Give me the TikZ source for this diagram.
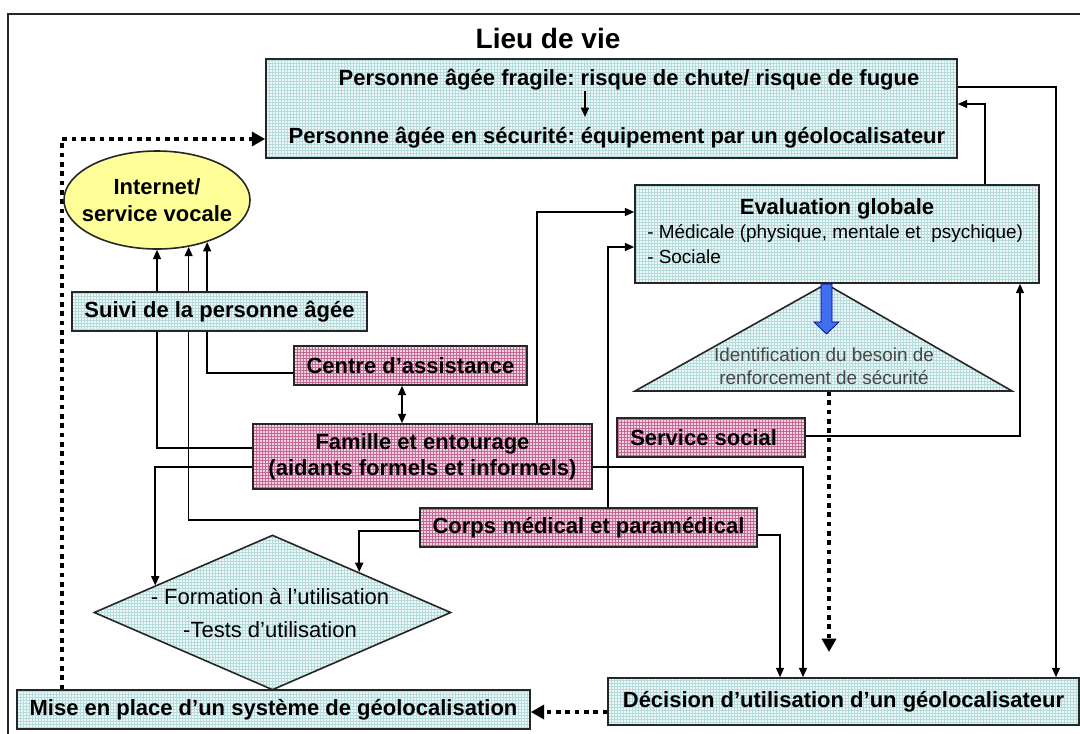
\documentclass[tikz,border=0pt]{standalone}
\usepackage{fontspec}
\setmainfont{Liberation Sans}
\usetikzlibrary{shapes.geometric,arrows.meta,backgrounds}
\frenchspacing
\definecolor{cyanfill}{HTML}{EEF8F8}
\definecolor{cyangrid}{HTML}{B4DCDC}
\definecolor{pinkfill}{HTML}{F2D4E2}
\definecolor{pinkgrid}{HTML}{C46896}
\definecolor{yellfill}{HTML}{FFFF99}
\definecolor{bluearr}{HTML}{3F6FF0}
\newcommand{\myBold}{\bfseries\fontsize{16.5}{19.8}\selectfont}
\newcommand{\myReg}{\fontsize{16.5}{19.8}\selectfont}
\newcommand{\mySmall}{\fontsize{14.2}{17.6}\selectfont}
\tikzset{
  cgrid/.style={path picture={\draw[cyangrid,line width=0.35pt,step=2.25pt] (path picture bounding box.south west) grid (path picture bounding box.north east);}},
  pgrid/.style={path picture={\draw[pinkgrid,line width=0.4pt,step=2.25pt] (path picture bounding box.south west) grid (path picture bounding box.north east);}},
  box/.style={draw=black!85, line width=1.2pt, inner sep=0pt, font=\myBold, align=center},
  cbox/.style={box, fill=cyanfill, cgrid},
  pbox/.style={box, fill=pinkfill, pgrid},
  txt/.style={inner sep=0pt, font=\myBold, align=center},
  conn/.style={line width=1.1pt, black},
  arr/.style={conn, -{Triangle[length=7pt,width=6pt]}},
  darr/.style={conn, {Triangle[length=7pt,width=6pt]}-{Triangle[length=7pt,width=6pt]}},
  dotarr/.style={line width=3pt, dash pattern=on 3.5pt off 3.5pt, -{Triangle[length=10pt,width=10.5pt]}},
}
\begin{document}
\begin{tikzpicture}[x=0.75pt,y=-0.75pt]
\useasboundingbox (0,0) rectangle (1080,733);
\clip (0,0) rectangle (1080,733);
\draw[line width=1.5pt, black!85] (8,14) rectangle (1110,770);

\node[txt, font=\bfseries\fontsize{21}{25}\selectfont] (title) at (548,38) {Lieu de vie};

% top box
\node[cbox, minimum width=518.25pt, minimum height=74.25pt] (top) at (611.5,108.5) {};
\node[txt] (t1) at (629,80) {Personne âgée fragile: risque de chute/ risque de fugue};
\node[txt] (t2) at (617,138) {Personne âgée en sécurité: équipement par un géolocalisateur};
\coordinate (a1) at (585,91);
\coordinate (a2) at (585,117);
\draw[arr] (a1) -- (a2);

% ellipse
\node[ellipse, draw=black!85, line width=1.2pt, fill=yellfill, minimum width=139.5pt, minimum height=73.5pt, inner sep=0pt] (ell) at (157,200) {};
\node[txt] (ellt) at (157,200) {Internet/\\service vocale};

% boxes
\node[cbox, minimum width=221.25pt, minimum height=29.25pt] (suivi) at (219.5,311.5) {Suivi de la personne âgée};
\node[pbox, minimum width=174.75pt, minimum height=29.25pt] (centre) at (410.5,365.5) {Centre d’assistance};
\node[pbox, minimum width=254.25pt, minimum height=48.75pt] (fam) at (422.5,456.5) {Famille et entourage\\(aidants formels et informels)};
\node[pbox, minimum width=252.75pt, minimum height=29.25pt] (corps) at (588.5,527.5) {Corps médical et paramédical};

% evaluation
\node[cbox, minimum width=303pt, minimum height=73.5pt] (eval) at (837,234) {};
\node[txt] (evt) at (837,209) {Evaluation globale};
\node[txt, anchor=west, font=\mySmall] (ev1) at (647,233) {- Médicale (physique, mentale et\ \ psychique)};
\node[txt, anchor=west, font=\mySmall] (ev2) at (647,257) {- Sociale};

% triangle
\coordinate (triapex) at (826,284);
\coordinate (triright) at (1012,391);
\coordinate (trileft) at (635,391);
\coordinate (tribase) at (829,391);
\filldraw[fill=cyanfill, cgrid, draw=black!85, line width=1.2pt] (triapex) -- (triright) -- (trileft) -- cycle;
\node[txt, font=\mySmall\mdseries, text=black!72] (trit) at (824,366) {Identification du besoin de\\renforcement de sécurité};

% blue arrow
\filldraw[fill=bluearr, draw=blue!50!black, line width=0.5pt] (821,284) -- (832,284) -- (832,322) -- (839,322) -- (826.5,334) -- (814,322) -- (821,322) -- cycle;

% service social
\node[pbox, minimum width=141pt, minimum height=29.25pt] (serv) at (711,437.5) {};
\node[txt, anchor=west] (servt) at (630,437.5) {Service social};

% diamond
\node[diamond, draw=black!85, line width=1.2pt, fill=cyanfill, cgrid, inner sep=0pt, minimum width=267.75pt, minimum height=116.25pt] (dia) at (272.5,612.5) {};
\node[txt, font=\myReg] (diat) at (270,613) {- Formation à l’utilisation\\[5pt]-Tests d’utilisation};

% bottom boxes
\node[cbox, minimum width=384.75pt, minimum height=29.25pt] (mise) at (273.5,709.5) {Mise en place d’un système de géolocalisation};
\node[cbox, minimum width=353.25pt, minimum height=35.25pt] (dec) at (843.5,701.5) {Décision d’utilisation d’un géolocalisateur};

\coordinate (dotend) at (829,652);

\begin{pgfonlayer}{background}
\fill[white] (0,0) rectangle (1080,733);
\draw[arr] (fam.west |- 0,448) -| (ell.south);
\draw[arr] (corps.west |- 0,520) -| (ell.-56);
\draw[arr] (centre.west |- 0,373) -| (ell.-40.3);
\draw[darr] (centre.south -| 402,0) -- (fam.north -| 402,0);
\draw[arr] (fam.north -| 537,0) |- (eval.west |- 0,212);
\draw[arr] (corps.north -| 608,0) |- (eval.west |- 0,247);
\draw[arr] (fam.west |- 0,467) -| (dia.167);
\draw[arr] (corps.west |- 0,531) -| (dia.25.8);
\draw[arr] (corps.east |- 0,535) -| (dec.north -| 780,0);
\draw[arr] (fam.east |- 0,467) -| (dec.north -| 803,0);
\draw[arr] (top.east |- 0,87) -| (dec.north -| 1056,0);
\draw[arr] (eval.north -| 985,0) |- (top.east |- 0,104);
\draw[arr] (serv.east |- 0,436) -| (eval.south -| 1020,0);
\draw[dotarr] (tribase) -- (dotend);
\draw[dotarr] (dec.west |- 0,712) -- (mise.east |- 0,712);
\draw[dotarr] (mise.north -| 62,0) |- (top.west |- 0,139);
\end{pgfonlayer}
\end{tikzpicture}
\end{document}
